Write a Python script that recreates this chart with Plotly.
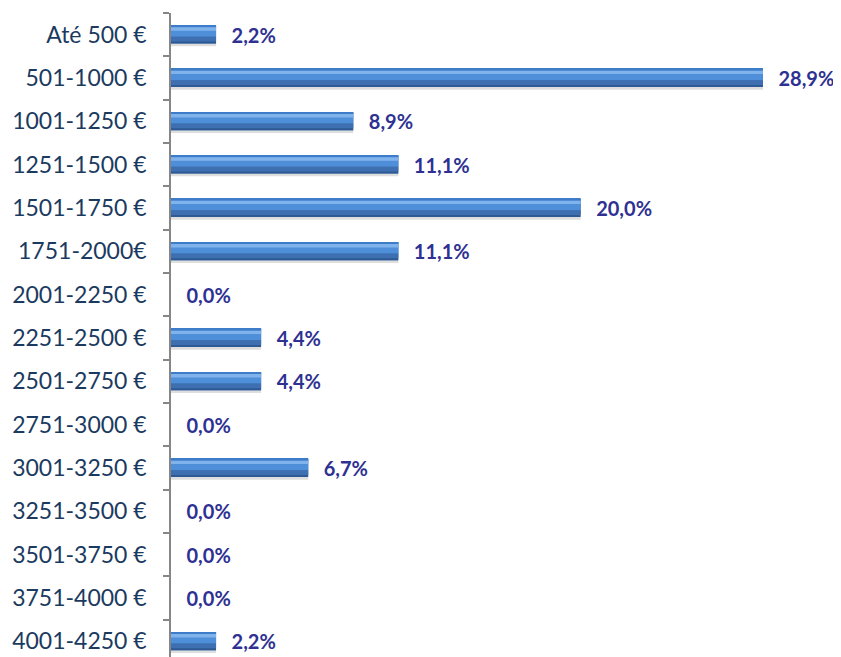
import plotly.graph_objects as go

categories = ["Até 500 €", "501-1000 €", "1001-1250 €", "1251-1500 €", "1501-1750 €",
              "1751-2000€", "2001-2250 €", "2251-2500 €", "2501-2750 €", "2751-3000 €",
              "3001-3250 €", "3251-3500 €", "3501-3750 €", "3751-4000 €", "4001-4250 €"]
values = [2.2, 28.9, 8.9, 11.1, 20.0, 11.1, 0.0, 4.4, 4.4, 0.0, 6.7, 0.0, 0.0, 0.0, 2.2]

fig = go.Figure()
common = dict(y=categories, x=values, orientation="h", hoverinfo="skip", showlegend=False)
# soft shadow
fig.add_trace(go.Bar(**common, width=0.06, offset=0.21, marker=dict(color="#DEDEDE", line=dict(width=0))))
# base (dark edge) + labels
fig.add_trace(go.Bar(
    **common, width=0.42, offset=-0.21,
    marker=dict(color="#2D5A95", line=dict(width=0)),
    texttemplate="\u2002\u2009%{x:.1f}%", textposition="outside", cliponaxis=False,
    constraintext="none",
    textfont=dict(family="Lato", size=20, color="#2E3192", weight="bold"),
))
# lower band
fig.add_trace(go.Bar(**common, width=0.11, offset=0.05, marker=dict(color="#3E6FB0", line=dict(width=0))))
# main body
fig.add_trace(go.Bar(**common, width=0.26, offset=-0.21, marker=dict(color="#4F8ED8", line=dict(width=0))))
# top edge
fig.add_trace(go.Bar(**common, width=0.04, offset=-0.21, marker=dict(color="#3D7CC9", line=dict(width=0))))
# highlight
fig.add_trace(go.Bar(**common, width=0.08, offset=-0.17, marker=dict(color="#80B3EC", line=dict(width=0))))

fig.update_layout(
    width=841, height=657,
    margin=dict(l=163, r=0, t=5, b=2, autoexpand=False),
    paper_bgcolor="white", plot_bgcolor="white",
    barmode="overlay", separators=",.",
    font=dict(family="Lato"),
    xaxis=dict(range=[0, 33.1], visible=False, fixedrange=True, automargin=False),
    yaxis=dict(
        type="category", categoryorder="array", categoryarray=categories,
        range=[14.5, -0.5], autorange=False, automargin=False,
        showline=True, linecolor="#868686", linewidth=1.5,
        ticks="outside", ticklen=6, tickcolor="#868686", tickwidth=1.5,
        tickson="boundaries", showgrid=False,
        tickfont=dict(family="Lato", size=23, color="#1B3A60"),
        ticklabelstandoff=18,
    ),
)
fig.write_html("out.html")
